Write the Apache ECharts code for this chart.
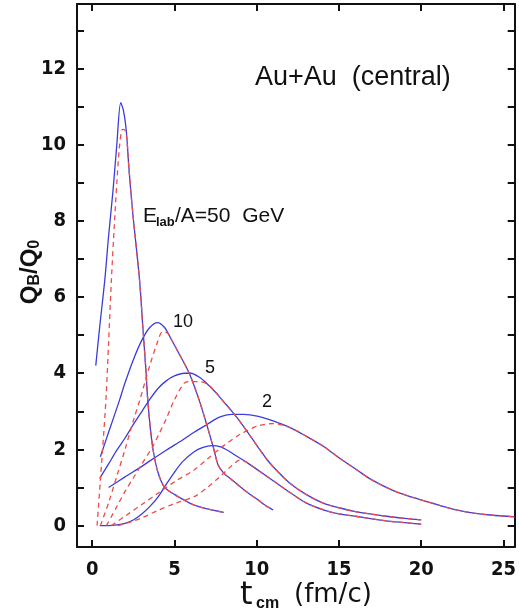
<!DOCTYPE html>
<html>
<head>
<meta charset="utf-8">
<script src="https://cdn.jsdelivr.net/npm/echarts@6/dist/echarts.min.js"></script>
<style>html,body{margin:0;padding:0;background:#fff;}#c{width:519px;height:615px;}</style>
</head>
<body>
<div id="c"></div>
<script>
// ---- data (t_cm in fm/c, rho_B/rho_0) ----
const xTickValues = [0, 5, 10, 15, 20, 25];
const yTickValues = [0, 1, 2, 3, 4, 5, 6, 7, 8, 9, 10, 11, 12, 13];
const yLabelValues = [0, 2, 4, 6, 8, 10, 12];

const blue50 = [[0.22,4.2],[0.46,5.22],[0.77,6.45],[1.0,7.6],[1.27,8.8],[1.5,10.0],[1.74,11.1],[1.9,10.9],[2.07,10.39],[2.25,9.3],[2.47,8.2],[2.88,6.45],[3.08,5.22],[3.25,4.2],[3.38,3.3],[3.55,2.5],[3.74,1.9],[4.0,1.4],[4.38,1.02],[5.0,0.82],[5.6,0.67],[6.2,0.54],[7.0,0.44],[8.0,0.35]];
const red50 = [[0.3,0],[0.5,1.2],[0.7,2.4],[0.85,3.4],[1.0,4.8],[1.17,6.45],[1.35,7.9],[1.51,9.06],[1.65,9.9],[1.8,10.38],[1.92,10.4],[2.07,10.3],[2.25,9.3],[2.47,8.2],[2.88,6.45],[3.08,5.22],[3.25,4.2],[3.38,3.3],[3.55,2.5],[3.74,1.9],[4.0,1.4],[4.38,1.02],[5.0,0.82],[5.6,0.67],[6.2,0.54],[7.0,0.44],[8.0,0.35]];

const blue10 = [[0.5,1.81],[1.0,2.45],[1.67,3.3],[2.0,3.75],[2.5,4.35],[3.0,4.85],[3.5,5.2],[3.98,5.33],[4.4,5.2],[4.8,4.9],[5.3,4.5],[5.9,4.0],[6.5,3.3],[7.0,2.6],[7.4,2.0],[7.65,1.6],[8.0,1.38],[8.5,1.2],[9.0,1.02],[9.5,0.85],[10.1,0.67],[10.5,0.54],[11.0,0.41]];
const red10 = [[0.5,0],[1.0,0.6],[1.5,1.3],[2.0,2.0],[2.5,2.75],[2.9,3.3],[3.5,4.2],[4.0,4.85],[4.28,5.09],[4.6,5.05],[4.8,4.9],[5.3,4.5],[5.9,4.0],[6.5,3.3],[7.0,2.6],[7.4,2.0],[7.65,1.6],[8.0,1.38],[8.5,1.2],[9.0,1.02],[9.5,0.85],[10.1,0.67],[10.5,0.54],[11.0,0.41]];

const blue5 = [[0.46,1.24],[1.0,1.62],[1.5,1.98],[2.0,2.3],[2.5,2.65],[3.0,2.98],[3.48,3.3],[4.0,3.6],[4.5,3.8],[5.0,3.93],[5.6,4.0],[6.0,4.0],[6.5,3.9],[7.0,3.72],[7.5,3.5],[8.0,3.25],[8.5,3.0],[8.9,2.78],[9.5,2.42],[10.1,2.05],[10.6,1.75],[11.1,1.5],[12.0,1.12],[13.0,0.82],[14.0,0.6],[15.0,0.47],[16.0,0.37],[17.0,0.3],[18.0,0.24],[19.0,0.19],[20.0,0.15]];
const red5 = [[0.87,0],[1.5,0.5],[2.0,0.9],[2.5,1.25],[3.0,1.6],[3.67,2.07],[4.0,2.35],[4.5,2.8],[5.0,3.3],[5.6,3.74],[6.0,3.78],[6.5,3.78],[7.0,3.72],[7.5,3.5],[8.0,3.25],[8.5,3.0],[8.9,2.78],[9.5,2.42],[10.1,2.05],[10.6,1.75],[11.1,1.5],[12.0,1.12],[13.0,0.82],[14.0,0.6],[15.0,0.47],[16.0,0.37],[17.0,0.3],[18.0,0.24],[19.0,0.19],[20.0,0.15]];

const blue2 = [[1.0,1.0],[2.0,1.28],[3.0,1.55],[3.58,1.72],[4.5,1.98],[5.5,2.25],[6.2,2.45],[7.0,2.66],[7.7,2.84],[8.5,2.92],[9.2,2.92],[10.1,2.87],[11.0,2.75],[12.1,2.56],[13.0,2.35],[14.1,2.07],[15.0,1.78],[16.1,1.46],[17.0,1.2],[18.2,0.94],[19.2,0.78],[20.2,0.65],[21.2,0.52],[22.2,0.41],[23.2,0.33],[24.2,0.28],[25.7,0.23]];
const red2 = [[1.17,0],[2.0,0.25],[3.0,0.55],[4.0,0.85],[5.0,1.15],[6.2,1.46],[7.0,1.75],[8.0,2.1],[9.0,2.4],[10.1,2.62],[11.0,2.68],[12.1,2.56],[13.0,2.35],[14.1,2.07],[15.0,1.78],[16.1,1.46],[17.0,1.2],[18.2,0.94],[19.2,0.78],[20.2,0.65],[21.2,0.52],[22.2,0.41],[23.2,0.33],[24.2,0.28],[25.7,0.23]];

const blueLow = [[0.46,0],[1.0,0.0],[1.5,0.02],[2.0,0.06],[2.5,0.15],[3.0,0.3],[3.5,0.5],[4.0,0.75],[4.4,1.02],[5.0,1.4],[5.5,1.68],[6.2,1.94],[6.7,2.05],[7.3,2.1],[7.8,2.07],[8.3,1.96],[8.8,1.82],[9.4,1.66],[10.1,1.45],[11.0,1.18],[12.1,0.85],[13.0,0.6],[14.1,0.41],[15.0,0.31],[16.1,0.24],[17.0,0.18],[18.0,0.12],[19.0,0.08],[20.0,0.04]];
const redLow = [[1.57,0],[2.5,0.12],[3.0,0.2],[4.0,0.4],[5.0,0.58],[6.2,0.76],[7.0,1.0],[7.8,1.3],[8.5,1.58],[9.0,1.72],[9.4,1.66],[10.1,1.45],[11.0,1.18],[12.1,0.85],[13.0,0.6],[14.1,0.41],[15.0,0.31],[16.1,0.24],[17.0,0.18],[18.0,0.12],[19.0,0.08],[20.0,0.04]];

const blueCurves = [blue50, blue10, blue5, blue2, blueLow];
const redCurves = [red50, red10, red5, red2, redLow];

// ---- chart ----
const BLUE = '#3c3cdc';
const RED = '#ee4c4c';
const AX = '#111111';
const NARROW = "'Liberation Sans Narrow','DejaVu Sans Condensed','Liberation Sans',sans-serif";
const SANS = "'Liberation Sans','DejaVu Sans',sans-serif";
const DJ = "'DejaVu Sans','Liberation Sans',sans-serif";

const series = [];
blueCurves.forEach(d => series.push({
  type: 'line', data: d, showSymbol: false, smooth: 0.3, silent: true,
  lineStyle: { color: BLUE, width: 1.3, type: 'solid' }, z: 2
}));
redCurves.forEach(d => series.push({
  type: 'line', data: d, showSymbol: false, smooth: 0.3, silent: true,
  lineStyle: { color: RED, width: 1.3, type: [5, 4] }, z: 3
}));

const xMin = -0.92, xMax = 25.68, yMin = -0.56, yMax = 13.69;
const tickStyle = { show: true, inside: true, length: 7, lineStyle: { color: AX, width: 2 } };
const lineStyleAx = { show: true, onZero: false, lineStyle: { color: AX, width: 2 } };

const option = {
  animation: false,
  backgroundColor: '#ffffff',
  grid: { left: 77, top: 4, right: 1, bottom: 68 },
  xAxis: [
    { type: 'value', position: 'bottom', min: xMin, max: xMax,
      axisLine: lineStyleAx,
      axisTick: Object.assign({}, tickStyle, { customValues: xTickValues }),
      axisLabel: { customValues: xTickValues, color: AX, fontSize: 20, fontWeight: 'bold', fontFamily: NARROW, margin: 13 },
      splitLine: { show: false } },
    { type: 'value', position: 'top', min: xMin, max: xMax,
      axisLine: lineStyleAx,
      axisTick: Object.assign({}, tickStyle, { customValues: xTickValues }),
      axisLabel: { show: false }, splitLine: { show: false } }
  ],
  yAxis: [
    { type: 'value', position: 'left', min: yMin, max: yMax,
      axisLine: lineStyleAx,
      axisTick: Object.assign({}, tickStyle, { customValues: yTickValues }),
      axisLabel: { customValues: yLabelValues, color: AX, fontSize: 20, fontWeight: 'bold', fontFamily: NARROW, margin: 11 },
      splitLine: { show: false } },
    { type: 'value', position: 'right', min: yMin, max: yMax,
      axisLine: lineStyleAx,
      axisTick: Object.assign({}, tickStyle, { customValues: yTickValues }),
      axisLabel: { show: false }, splitLine: { show: false } }
  ],
  series: series,
  graphic: [
    { type: 'text', left: 255, top: 64, style: { text: 'Au+Au  (central)', font: '27px ' + SANS, fill: AX } },
    { type: 'text', x: 143, y: 216, style: { text: 'E', font: '21px ' + SANS, fill: AX, textVerticalAlign: 'middle' } },
    { type: 'text', x: 156, y: 222, style: { text: 'lab', font: 'bold 13px ' + SANS, fill: AX, textVerticalAlign: 'middle' } },
    { type: 'text', x: 175, y: 216, style: { text: '/A=50  GeV', font: '21px ' + SANS, fill: AX, textVerticalAlign: 'middle' } },
    { type: 'text', x: 173, y: 322, style: { text: '10', font: '18px ' + SANS, fill: AX, textVerticalAlign: 'middle' } },
    { type: 'text', x: 205, y: 368, style: { text: '5', font: '18px ' + SANS, fill: AX, textVerticalAlign: 'middle' } },
    { type: 'text', x: 262, y: 402, style: { text: '2', font: '18px ' + SANS, fill: AX, textVerticalAlign: 'middle' } },
    { type: 'text', x: 240, y: 596, style: { text: 't', font: '32px ' + DJ, fill: AX, textVerticalAlign: 'middle' } },
    { type: 'text', x: 256, y: 604, style: { text: 'cm', font: 'bold 16px ' + SANS, fill: AX, textVerticalAlign: 'middle' } },
    { type: 'text', x: 294, y: 595, style: { text: '(fm/c)', font: '26px ' + DJ, fill: AX, textVerticalAlign: 'middle' } },
    { type: 'group', x: 30, y: 272, rotation: Math.PI / 2, children: [
      { type: 'text', x: 0, y: 0, style: {
        text: '{a|Q}{b|B}{a|/Q}{b|0}', fill: AX, textAlign: 'center', textVerticalAlign: 'middle',
        rich: {
          a: { fontSize: 24, fontFamily: SANS, fill: AX, fontWeight: 'bold' },
          b: { fontSize: 16, fontFamily: SANS, fill: AX, fontWeight: 'bold', padding: [10, 0, 0, 0] }
        } } }
    ] }
  ]
};

const chart = echarts.init(document.getElementById('c'), null, { renderer: 'canvas' });
chart.setOption(option);
</script>
</body>
</html>
